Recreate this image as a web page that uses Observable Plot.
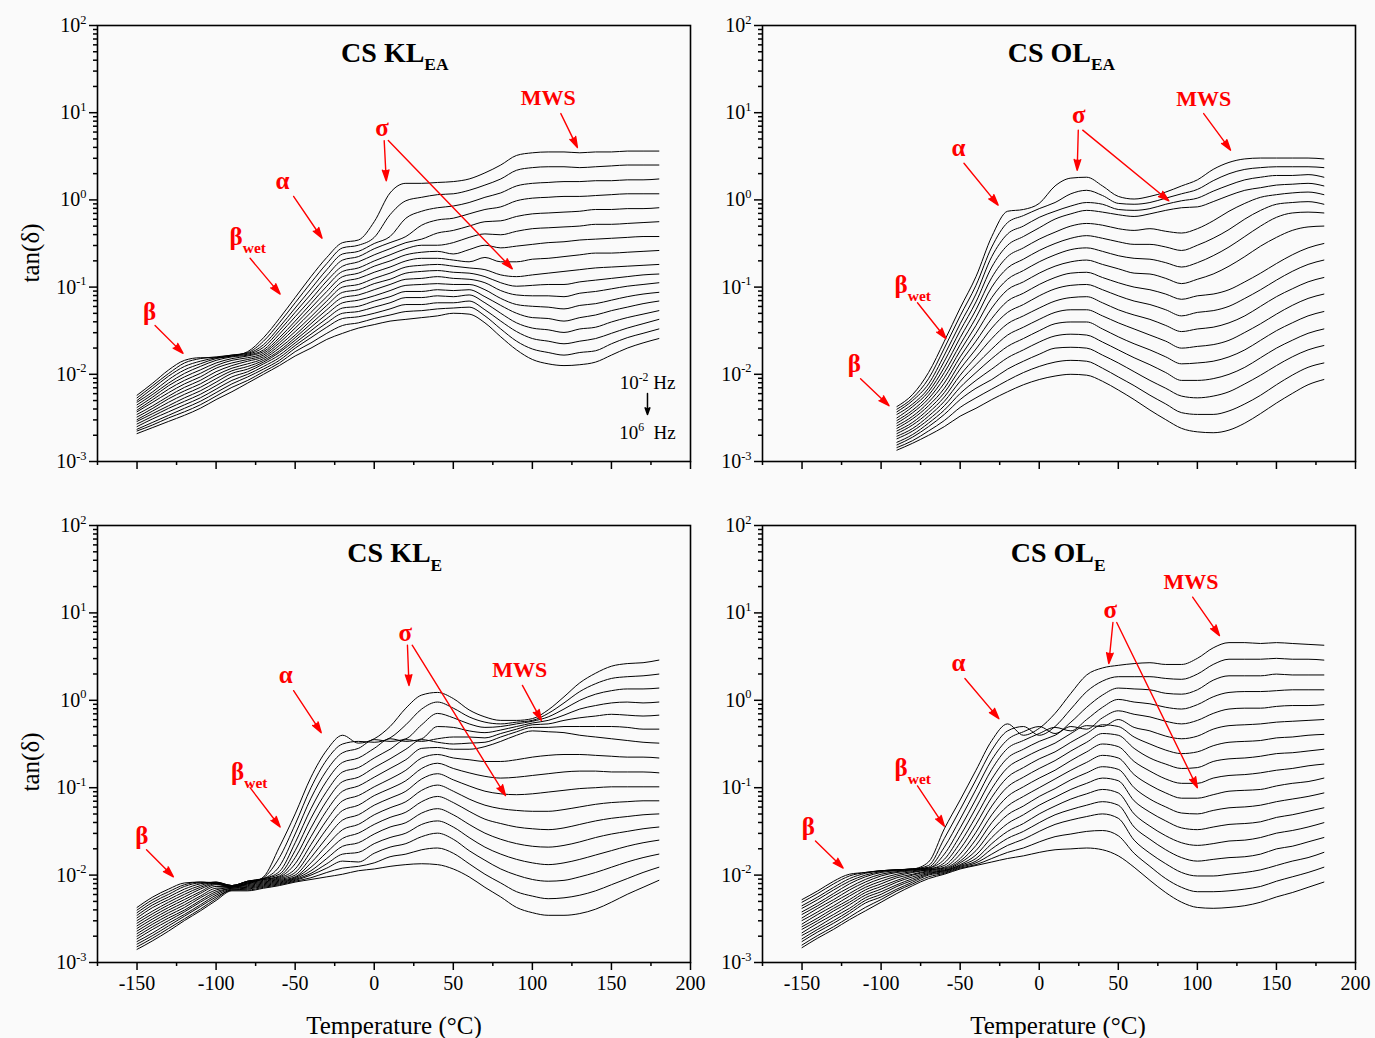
<!DOCTYPE html>
<html>
<head>
<meta charset="utf-8">
<script src="https://cdn.jsdelivr.net/npm/d3@7"></script>
<script src="https://cdn.jsdelivr.net/npm/@observablehq/plot@0.6"></script>
<style>
  html, body { margin: 0; padding: 0; background: #fafafa; }
  #fig { position: relative; width: 1375px; height: 1038px; background: #fafafa;
         font-family: "Liberation Serif", "Times New Roman", serif; }
  #fig svg { position: absolute; overflow: visible; }
</style>
</head>
<body>
<div id="fig"></div>
<script>
// Measurement temperatures (°C), one row of each table per temperature
const temps = [-150, -140, -130, -120, -110, -100, -90, -80, -70, -60, -50, -40, -30, -20, -10, 0,
  10, 20, 30, 40, 50, 60, 70, 80, 90, 100, 110, 120, 130, 140, 150, 160, 170, 180];
const tempsOLEA = [-90, -80, -70, -60, -50, -40, -30, -20, -10, 0,
  10, 20, 30, 40, 50, 60, 70, 80, 90, 100, 110, 120, 130, 140, 150, 160, 170, 180];
// log10 of the frequency (Hz), one column of each table per frequency
const freqExp = [-2, -1.5, -1, -0.5, 0, 0.5, 1, 1.5, 2, 2.5, 3, 3.5, 4, 4.5, 5, 5.5, 6];

// log10 tan(δ): rows = temperature, columns = frequency
const klEA = [
  [-2.24, -2.27, -2.30, -2.32, -2.35, -2.38, -2.41, -2.43, -2.46, -2.49, -2.52, -2.54, -2.57, -2.60, -2.63, -2.65, -2.68],
  [-2.10, -2.13, -2.16, -2.20, -2.23, -2.26, -2.29, -2.32, -2.36, -2.39, -2.42, -2.45, -2.48, -2.51, -2.55, -2.58, -2.61],
  [-1.95, -1.99, -2.02, -2.06, -2.10, -2.13, -2.17, -2.21, -2.25, -2.28, -2.32, -2.36, -2.39, -2.43, -2.47, -2.50, -2.54],
  [-1.84, -1.87, -1.91, -1.95, -1.99, -2.03, -2.07, -2.11, -2.15, -2.19, -2.23, -2.27, -2.31, -2.35, -2.39, -2.43, -2.47],
  [-1.81, -1.82, -1.85, -1.88, -1.91, -1.95, -1.99, -2.03, -2.07, -2.11, -2.15, -2.19, -2.23, -2.27, -2.31, -2.35, -2.39],
  [-1.81, -1.80, -1.81, -1.82, -1.84, -1.87, -1.90, -1.93, -1.97, -2.01, -2.05, -2.09, -2.13, -2.17, -2.21, -2.25, -2.29],
  [-1.79, -1.78, -1.78, -1.79, -1.80, -1.82, -1.84, -1.87, -1.90, -1.93, -1.96, -1.99, -2.03, -2.07, -2.11, -2.15, -2.20],
  [-1.74, -1.75, -1.76, -1.77, -1.78, -1.79, -1.81, -1.83, -1.85, -1.88, -1.91, -1.94, -1.97, -2.00, -2.03, -2.07, -2.10],
  [-1.58, -1.62, -1.66, -1.69, -1.72, -1.74, -1.76, -1.78, -1.80, -1.82, -1.84, -1.86, -1.88, -1.91, -1.94, -1.97, -2.00],
  [-1.36, -1.41, -1.46, -1.50, -1.54, -1.58, -1.61, -1.64, -1.67, -1.70, -1.73, -1.75, -1.78, -1.81, -1.84, -1.87, -1.90],
  [-1.12, -1.18, -1.24, -1.29, -1.34, -1.39, -1.43, -1.47, -1.51, -1.55, -1.58, -1.61, -1.64, -1.67, -1.70, -1.74, -1.79],
  [-0.88, -0.95, -1.02, -1.08, -1.14, -1.19, -1.24, -1.29, -1.34, -1.38, -1.42, -1.46, -1.50, -1.54, -1.58, -1.64, -1.70],
  [-0.66, -0.73, -0.80, -0.87, -0.93, -0.99, -1.05, -1.11, -1.16, -1.21, -1.26, -1.31, -1.36, -1.41, -1.46, -1.53, -1.60],
  [-0.49, -0.55, -0.62, -0.69, -0.76, -0.82, -0.88, -0.94, -1.00, -1.06, -1.12, -1.18, -1.24, -1.30, -1.36, -1.44, -1.53],
  [-0.46, -0.52, -0.59, -0.65, -0.71, -0.78, -0.84, -0.90, -0.97, -1.03, -1.09, -1.15, -1.22, -1.28, -1.34, -1.41, -1.47],
  [-0.25, -0.43, -0.50, -0.56, -0.63, -0.70, -0.76, -0.83, -0.90, -0.96, -1.03, -1.10, -1.16, -1.23, -1.30, -1.36, -1.43],
  [0.08, -0.17, -0.42, -0.49, -0.56, -0.63, -0.70, -0.77, -0.84, -0.91, -0.97, -1.04, -1.11, -1.18, -1.25, -1.32, -1.39],
  [0.19, -0.01, -0.21, -0.42, -0.49, -0.56, -0.63, -0.70, -0.77, -0.84, -0.91, -0.98, -1.05, -1.12, -1.20, -1.28, -1.37],
  [0.19, 0.03, -0.13, -0.29, -0.45, -0.52, -0.60, -0.67, -0.75, -0.82, -0.90, -0.97, -1.05, -1.12, -1.20, -1.27, -1.35],
  [0.20, 0.06, -0.09, -0.23, -0.38, -0.52, -0.59, -0.67, -0.74, -0.81, -0.88, -0.96, -1.03, -1.10, -1.18, -1.25, -1.33],
  [0.21, 0.07, -0.07, -0.21, -0.35, -0.49, -0.62, -0.69, -0.76, -0.83, -0.90, -0.97, -1.04, -1.11, -1.18, -1.24, -1.30],
  [0.24, 0.11, -0.03, -0.16, -0.30, -0.43, -0.57, -0.71, -0.78, -0.84, -0.91, -0.97, -1.03, -1.09, -1.16, -1.23, -1.31],
  [0.31, 0.17, 0.03, -0.11, -0.25, -0.39, -0.52, -0.66, -0.80, -0.88, -0.95, -1.03, -1.11, -1.18, -1.26, -1.33, -1.41],
  [0.40, 0.24, 0.08, -0.08, -0.24, -0.40, -0.55, -0.71, -0.86, -0.95, -1.04, -1.13, -1.21, -1.30, -1.39, -1.48, -1.57],
  [0.51, 0.34, 0.16, -0.01, -0.19, -0.36, -0.53, -0.71, -0.88, -0.99, -1.09, -1.20, -1.30, -1.41, -1.51, -1.62, -1.72],
  [0.54, 0.37, 0.19, 0.02, -0.16, -0.33, -0.51, -0.68, -0.86, -0.98, -1.10, -1.22, -1.35, -1.47, -1.59, -1.71, -1.83],
  [0.55, 0.38, 0.20, 0.03, -0.15, -0.32, -0.49, -0.67, -0.84, -0.97, -1.10, -1.23, -1.36, -1.49, -1.62, -1.75, -1.88],
  [0.55, 0.38, 0.21, 0.04, -0.14, -0.31, -0.48, -0.65, -0.82, -0.97, -1.11, -1.25, -1.39, -1.52, -1.65, -1.78, -1.90],
  [0.54, 0.37, 0.21, 0.04, -0.13, -0.30, -0.46, -0.63, -0.80, -0.94, -1.07, -1.21, -1.35, -1.48, -1.62, -1.75, -1.89],
  [0.55, 0.38, 0.22, 0.05, -0.11, -0.28, -0.45, -0.61, -0.78, -0.92, -1.05, -1.19, -1.32, -1.46, -1.59, -1.73, -1.86],
  [0.55, 0.39, 0.22, 0.06, -0.11, -0.28, -0.44, -0.61, -0.77, -0.90, -1.02, -1.15, -1.27, -1.40, -1.53, -1.65, -1.78],
  [0.56, 0.40, 0.23, 0.07, -0.10, -0.27, -0.43, -0.60, -0.76, -0.88, -0.99, -1.11, -1.23, -1.35, -1.47, -1.58, -1.70],
  [0.56, 0.40, 0.23, 0.07, -0.10, -0.26, -0.42, -0.59, -0.75, -0.86, -0.97, -1.08, -1.19, -1.31, -1.42, -1.53, -1.64],
  [0.56, 0.40, 0.24, 0.07, -0.09, -0.25, -0.42, -0.58, -0.74, -0.85, -0.95, -1.06, -1.16, -1.27, -1.37, -1.48, -1.59]
];

const olEA = [
  [-2.37, -2.40, -2.43, -2.46, -2.50, -2.53, -2.56, -2.59, -2.62, -2.65, -2.68, -2.71, -2.74, -2.78, -2.81, -2.84, -2.87],
  [-2.23, -2.27, -2.30, -2.34, -2.37, -2.41, -2.44, -2.48, -2.51, -2.55, -2.58, -2.62, -2.65, -2.69, -2.72, -2.76, -2.79],
  [-1.98, -2.05, -2.11, -2.16, -2.20, -2.24, -2.28, -2.32, -2.36, -2.40, -2.44, -2.48, -2.52, -2.56, -2.60, -2.65, -2.70],
  [-1.62, -1.70, -1.78, -1.85, -1.92, -1.98, -2.04, -2.10, -2.16, -2.21, -2.26, -2.31, -2.36, -2.41, -2.46, -2.53, -2.60],
  [-1.24, -1.33, -1.42, -1.50, -1.58, -1.66, -1.73, -1.80, -1.87, -1.94, -2.01, -2.08, -2.15, -2.22, -2.29, -2.38, -2.48],
  [-0.88, -0.98, -1.08, -1.17, -1.26, -1.35, -1.44, -1.53, -1.62, -1.71, -1.80, -1.89, -1.98, -2.07, -2.16, -2.27, -2.39],
  [-0.42, -0.54, -0.65, -0.77, -0.89, -1.00, -1.12, -1.24, -1.36, -1.47, -1.59, -1.71, -1.82, -1.94, -2.06, -2.17, -2.29],
  [-0.13, -0.26, -0.39, -0.52, -0.65, -0.78, -0.91, -1.03, -1.16, -1.29, -1.42, -1.55, -1.68, -1.81, -1.94, -2.07, -2.20],
  [-0.11, -0.18, -0.30, -0.42, -0.55, -0.68, -0.81, -0.94, -1.07, -1.20, -1.33, -1.46, -1.59, -1.72, -1.85, -1.98, -2.12],
  [-0.04, -0.10, -0.20, -0.32, -0.45, -0.58, -0.71, -0.84, -0.97, -1.10, -1.24, -1.37, -1.50, -1.63, -1.77, -1.91, -2.06],
  [0.16, -0.03, -0.13, -0.22, -0.37, -0.50, -0.63, -0.76, -0.89, -1.02, -1.16, -1.29, -1.42, -1.56, -1.70, -1.86, -2.02],
  [0.25, 0.07, -0.07, -0.16, -0.30, -0.44, -0.57, -0.71, -0.84, -0.98, -1.12, -1.26, -1.40, -1.54, -1.69, -1.84, -2.00],
  [0.26, 0.11, -0.03, -0.12, -0.27, -0.41, -0.55, -0.69, -0.83, -0.97, -1.11, -1.26, -1.40, -1.55, -1.70, -1.85, -2.01],
  [0.16, 0.05, -0.05, -0.14, -0.29, -0.44, -0.59, -0.74, -0.89, -1.03, -1.18, -1.33, -1.48, -1.63, -1.78, -1.93, -2.08],
  [0.04, -0.04, -0.11, -0.17, -0.33, -0.48, -0.64, -0.79, -0.95, -1.10, -1.26, -1.41, -1.57, -1.72, -1.87, -2.03, -2.18],
  [0.01, -0.05, -0.12, -0.19, -0.35, -0.51, -0.67, -0.84, -1.00, -1.16, -1.32, -1.48, -1.65, -1.81, -1.97, -2.13, -2.29],
  [0.04, -0.03, -0.10, -0.16, -0.33, -0.51, -0.68, -0.85, -1.03, -1.20, -1.37, -1.55, -1.72, -1.89, -2.07, -2.24, -2.41],
  [0.09, 0.02, -0.05, -0.12, -0.36, -0.54, -0.72, -0.90, -1.08, -1.26, -1.44, -1.62, -1.80, -1.98, -2.16, -2.34, -2.52],
  [0.16, 0.07, -0.01, -0.09, -0.38, -0.58, -0.77, -0.96, -1.14, -1.33, -1.51, -1.70, -1.88, -2.07, -2.25, -2.44, -2.62],
  [0.23, 0.12, 0.02, -0.08, -0.33, -0.52, -0.72, -0.91, -1.10, -1.29, -1.48, -1.68, -1.87, -2.07, -2.27, -2.46, -2.66],
  [0.35, 0.22, 0.10, -0.02, -0.24, -0.44, -0.64, -0.85, -1.08, -1.27, -1.46, -1.66, -1.85, -2.05, -2.25, -2.46, -2.67],
  [0.43, 0.30, 0.17, 0.05, -0.13, -0.34, -0.54, -0.76, -1.03, -1.22, -1.41, -1.61, -1.80, -2.00, -2.20, -2.42, -2.64],
  [0.47, 0.35, 0.23, 0.11, -0.04, -0.22, -0.42, -0.65, -0.94, -1.13, -1.33, -1.52, -1.72, -1.92, -2.11, -2.34, -2.56],
  [0.48, 0.37, 0.26, 0.14, 0.03, -0.12, -0.30, -0.53, -0.84, -1.03, -1.22, -1.42, -1.61, -1.81, -2.01, -2.24, -2.45],
  [0.48, 0.38, 0.28, 0.17, 0.06, -0.05, -0.20, -0.43, -0.73, -0.92, -1.11, -1.31, -1.50, -1.70, -1.90, -2.12, -2.33],
  [0.48, 0.38, 0.28, 0.18, 0.08, -0.03, -0.15, -0.35, -0.63, -0.82, -1.02, -1.21, -1.41, -1.61, -1.80, -2.01, -2.22],
  [0.48, 0.38, 0.29, 0.19, 0.09, -0.02, -0.14, -0.31, -0.55, -0.74, -0.94, -1.13, -1.33, -1.53, -1.72, -1.92, -2.12],
  [0.47, 0.37, 0.26, 0.16, 0.06, -0.05, -0.15, -0.30, -0.50, -0.69, -0.89, -1.08, -1.28, -1.48, -1.67, -1.87, -2.06]
];

const klE = [
  [-2.37, -2.40, -2.43, -2.46, -2.49, -2.52, -2.55, -2.58, -2.61, -2.64, -2.67, -2.70, -2.73, -2.76, -2.79, -2.82, -2.85],
  [-2.25, -2.28, -2.31, -2.34, -2.37, -2.41, -2.44, -2.47, -2.50, -2.53, -2.56, -2.59, -2.62, -2.66, -2.69, -2.72, -2.75],
  [-2.16, -2.19, -2.22, -2.25, -2.28, -2.31, -2.34, -2.37, -2.40, -2.43, -2.46, -2.49, -2.52, -2.55, -2.58, -2.61, -2.64],
  [-2.09, -2.11, -2.13, -2.16, -2.19, -2.22, -2.25, -2.28, -2.31, -2.34, -2.37, -2.40, -2.42, -2.45, -2.47, -2.50, -2.52],
  [-2.08, -2.08, -2.09, -2.10, -2.12, -2.14, -2.16, -2.19, -2.21, -2.24, -2.26, -2.29, -2.31, -2.34, -2.36, -2.39, -2.41],
  [-2.10, -2.09, -2.09, -2.08, -2.08, -2.09, -2.10, -2.11, -2.13, -2.15, -2.17, -2.19, -2.21, -2.23, -2.25, -2.27, -2.29],
  [-2.13, -2.13, -2.12, -2.12, -2.12, -2.12, -2.12, -2.13, -2.13, -2.14, -2.14, -2.15, -2.15, -2.16, -2.17, -2.17, -2.18],
  [-2.10, -2.09, -2.08, -2.07, -2.07, -2.07, -2.08, -2.09, -2.10, -2.11, -2.12, -2.13, -2.14, -2.15, -2.16, -2.17, -2.18],
  [-2.02, -2.03, -2.04, -2.04, -2.04, -2.05, -2.05, -2.06, -2.07, -2.08, -2.09, -2.10, -2.11, -2.12, -2.13, -2.14, -2.15],
  [-1.68, -1.80, -1.90, -1.96, -1.99, -2.01, -2.02, -2.03, -2.04, -2.05, -2.06, -2.07, -2.08, -2.09, -2.10, -2.11, -2.12],
  [-1.30, -1.42, -1.53, -1.63, -1.72, -1.80, -1.87, -1.93, -1.97, -2.00, -2.02, -2.03, -2.04, -2.05, -2.06, -2.07, -2.08],
  [-0.88, -1.00, -1.12, -1.24, -1.35, -1.46, -1.56, -1.65, -1.73, -1.80, -1.86, -1.91, -1.95, -1.98, -2.00, -2.03, -2.05],
  [-0.57, -0.68, -0.80, -0.92, -1.04, -1.15, -1.26, -1.37, -1.47, -1.57, -1.66, -1.74, -1.81, -1.87, -1.92, -1.97, -2.02],
  [-0.40, -0.50, -0.60, -0.71, -0.82, -0.93, -1.04, -1.15, -1.26, -1.37, -1.48, -1.58, -1.67, -1.76, -1.84, -1.92, -1.99],
  [-0.49, -0.47, -0.55, -0.66, -0.77, -0.88, -0.98, -1.09, -1.20, -1.31, -1.42, -1.52, -1.63, -1.74, -1.85, -1.90, -1.95],
  [-0.44, -0.48, -0.45, -0.55, -0.66, -0.77, -0.88, -0.99, -1.09, -1.20, -1.31, -1.42, -1.53, -1.64, -1.75, -1.86, -1.93],
  [-0.30, -0.43, -0.47, -0.44, -0.56, -0.67, -0.78, -0.90, -1.01, -1.12, -1.23, -1.34, -1.45, -1.57, -1.68, -1.79, -1.90],
  [-0.09, -0.28, -0.44, -0.47, -0.45, -0.56, -0.68, -0.80, -0.92, -1.04, -1.16, -1.28, -1.40, -1.52, -1.64, -1.76, -1.88],
  [0.06, -0.10, -0.28, -0.44, -0.47, -0.45, -0.55, -0.66, -0.78, -0.90, -1.03, -1.16, -1.29, -1.42, -1.56, -1.71, -1.87],
  [0.09, -0.02, -0.15, -0.30, -0.44, -0.48, -0.54, -0.62, -0.72, -0.84, -0.97, -1.10, -1.24, -1.38, -1.52, -1.69, -1.88],
  [0.02, -0.09, -0.20, -0.31, -0.42, -0.50, -0.56, -0.66, -0.78, -0.91, -1.04, -1.17, -1.31, -1.45, -1.59, -1.75, -1.93],
  [-0.11, -0.19, -0.27, -0.35, -0.42, -0.49, -0.56, -0.68, -0.83, -0.98, -1.13, -1.27, -1.42, -1.57, -1.72, -1.87, -2.02],
  [-0.19, -0.25, -0.31, -0.37, -0.43, -0.48, -0.53, -0.70, -0.87, -1.04, -1.20, -1.36, -1.52, -1.68, -1.83, -1.99, -2.14],
  [-0.23, -0.27, -0.30, -0.34, -0.38, -0.42, -0.47, -0.70, -0.89, -1.07, -1.24, -1.41, -1.59, -1.76, -1.93, -2.09, -2.25],
  [-0.23, -0.25, -0.27, -0.30, -0.33, -0.36, -0.40, -0.68, -0.88, -1.08, -1.26, -1.45, -1.64, -1.82, -2.00, -2.19, -2.37],
  [-0.21, -0.23, -0.24, -0.26, -0.28, -0.31, -0.35, -0.65, -0.86, -1.07, -1.27, -1.47, -1.67, -1.86, -2.05, -2.24, -2.43],
  [-0.11, -0.15, -0.19, -0.23, -0.27, -0.31, -0.36, -0.63, -0.84, -1.05, -1.27, -1.48, -1.68, -1.88, -2.07, -2.27, -2.46],
  [0.04, -0.03, -0.10, -0.17, -0.23, -0.30, -0.37, -0.62, -0.82, -1.03, -1.25, -1.46, -1.66, -1.86, -2.06, -2.26, -2.46],
  [0.20, 0.10, 0.00, -0.10, -0.20, -0.30, -0.40, -0.62, -0.81, -1.01, -1.22, -1.42, -1.62, -1.82, -2.02, -2.23, -2.44],
  [0.31, 0.19, 0.07, -0.06, -0.18, -0.30, -0.42, -0.63, -0.81, -1.00, -1.19, -1.38, -1.57, -1.77, -1.97, -2.18, -2.39],
  [0.39, 0.25, 0.11, -0.03, -0.16, -0.30, -0.44, -0.64, -0.82, -0.99, -1.17, -1.35, -1.53, -1.72, -1.91, -2.11, -2.31],
  [0.42, 0.27, 0.13, -0.02, -0.17, -0.31, -0.46, -0.65, -0.82, -0.99, -1.16, -1.33, -1.50, -1.67, -1.85, -2.04, -2.22],
  [0.43, 0.28, 0.13, -0.03, -0.18, -0.33, -0.48, -0.65, -0.82, -0.99, -1.15, -1.31, -1.47, -1.63, -1.80, -1.97, -2.14],
  [0.46, 0.30, 0.14, -0.02, -0.17, -0.33, -0.49, -0.66, -0.83, -0.99, -1.15, -1.30, -1.45, -1.60, -1.76, -1.91, -2.06]
];

const olE = [
  [-2.28, -2.31, -2.35, -2.38, -2.42, -2.45, -2.49, -2.52, -2.56, -2.59, -2.62, -2.66, -2.69, -2.73, -2.76, -2.80, -2.83],
  [-2.18, -2.21, -2.25, -2.28, -2.32, -2.35, -2.38, -2.42, -2.45, -2.49, -2.52, -2.55, -2.59, -2.62, -2.65, -2.69, -2.72],
  [-2.07, -2.10, -2.14, -2.17, -2.21, -2.24, -2.28, -2.31, -2.35, -2.38, -2.41, -2.45, -2.48, -2.52, -2.55, -2.59, -2.62],
  [-1.99, -2.01, -2.04, -2.07, -2.10, -2.14, -2.17, -2.21, -2.24, -2.28, -2.31, -2.34, -2.38, -2.41, -2.44, -2.48, -2.51],
  [-1.97, -1.97, -1.98, -2.00, -2.02, -2.05, -2.08, -2.11, -2.14, -2.17, -2.20, -2.23, -2.26, -2.29, -2.32, -2.37, -2.41],
  [-1.95, -1.95, -1.95, -1.96, -1.97, -1.99, -2.01, -2.04, -2.07, -2.10, -2.13, -2.16, -2.19, -2.22, -2.25, -2.28, -2.31],
  [-1.94, -1.94, -1.94, -1.94, -1.95, -1.96, -1.97, -1.99, -2.01, -2.03, -2.06, -2.08, -2.11, -2.13, -2.16, -2.18, -2.21],
  [-1.93, -1.93, -1.93, -1.93, -1.94, -1.94, -1.95, -1.96, -1.97, -1.99, -2.00, -2.02, -2.04, -2.06, -2.08, -2.10, -2.12],
  [-1.85, -1.89, -1.91, -1.92, -1.92, -1.93, -1.93, -1.94, -1.94, -1.95, -1.96, -1.97, -1.98, -1.99, -2.00, -2.02, -2.04],
  [-1.47, -1.58, -1.68, -1.76, -1.82, -1.86, -1.89, -1.91, -1.92, -1.93, -1.94, -1.95, -1.95, -1.96, -1.97, -1.98, -1.99],
  [-1.14, -1.25, -1.36, -1.46, -1.55, -1.63, -1.70, -1.76, -1.81, -1.84, -1.86, -1.88, -1.89, -1.90, -1.91, -1.92, -1.93],
  [-0.80, -0.91, -1.02, -1.13, -1.23, -1.33, -1.42, -1.51, -1.59, -1.66, -1.72, -1.77, -1.81, -1.84, -1.86, -1.88, -1.89],
  [-0.46, -0.57, -0.68, -0.79, -0.90, -1.01, -1.11, -1.21, -1.31, -1.40, -1.49, -1.57, -1.64, -1.70, -1.76, -1.81, -1.85],
  [-0.27, -0.35, -0.45, -0.55, -0.66, -0.77, -0.88, -0.99, -1.10, -1.21, -1.31, -1.41, -1.50, -1.58, -1.66, -1.74, -1.81],
  [-0.40, -0.30, -0.36, -0.46, -0.56, -0.66, -0.77, -0.88, -0.99, -1.10, -1.21, -1.31, -1.41, -1.50, -1.59, -1.69, -1.78],
  [-0.32, -0.40, -0.30, -0.38, -0.47, -0.57, -0.67, -0.78, -0.89, -1.00, -1.10, -1.20, -1.30, -1.40, -1.50, -1.62, -1.74],
  [-0.15, -0.30, -0.38, -0.31, -0.40, -0.49, -0.59, -0.69, -0.80, -0.90, -1.01, -1.11, -1.21, -1.31, -1.42, -1.56, -1.71],
  [0.08, -0.10, -0.25, -0.35, -0.30, -0.38, -0.48, -0.58, -0.69, -0.80, -0.91, -1.02, -1.13, -1.25, -1.37, -1.53, -1.70],
  [0.29, 0.10, -0.08, -0.22, -0.33, -0.29, -0.38, -0.48, -0.59, -0.71, -0.83, -0.95, -1.07, -1.20, -1.33, -1.50, -1.69],
  [0.37, 0.22, 0.06, -0.08, -0.20, -0.30, -0.28, -0.38, -0.50, -0.63, -0.76, -0.89, -1.02, -1.16, -1.30, -1.49, -1.71],
  [0.40, 0.27, 0.14, 0.01, -0.12, -0.22, -0.30, -0.40, -0.53, -0.66, -0.79, -0.92, -1.06, -1.20, -1.35, -1.55, -1.78],
  [0.42, 0.27, 0.13, -0.02, -0.16, -0.31, -0.42, -0.55, -0.70, -0.85, -1.00, -1.15, -1.30, -1.45, -1.60, -1.75, -1.91],
  [0.43, 0.27, 0.12, -0.04, -0.19, -0.35, -0.50, -0.66, -0.81, -0.97, -1.13, -1.28, -1.44, -1.59, -1.75, -1.90, -2.06],
  [0.41, 0.25, 0.08, -0.08, -0.24, -0.41, -0.57, -0.73, -0.90, -1.06, -1.22, -1.38, -1.55, -1.71, -1.87, -2.04, -2.20],
  [0.41, 0.24, 0.07, -0.10, -0.27, -0.44, -0.61, -0.78, -0.95, -1.12, -1.29, -1.46, -1.63, -1.80, -1.97, -2.14, -2.31],
  [0.48, 0.30, 0.12, -0.05, -0.23, -0.41, -0.59, -0.77, -0.95, -1.12, -1.30, -1.48, -1.66, -1.84, -2.01, -2.19, -2.37],
  [0.60, 0.41, 0.23, 0.04, -0.15, -0.33, -0.52, -0.70, -0.89, -1.08, -1.26, -1.45, -1.64, -1.82, -2.01, -2.19, -2.38],
  [0.66, 0.47, 0.28, 0.09, -0.10, -0.29, -0.48, -0.67, -0.86, -1.04, -1.23, -1.42, -1.61, -1.80, -1.99, -2.18, -2.37],
  [0.66, 0.47, 0.28, 0.10, -0.09, -0.28, -0.47, -0.66, -0.85, -1.03, -1.22, -1.41, -1.60, -1.79, -1.97, -2.16, -2.35],
  [0.65, 0.47, 0.28, 0.10, -0.09, -0.27, -0.46, -0.64, -0.83, -1.02, -1.20, -1.39, -1.57, -1.76, -1.94, -2.13, -2.31],
  [0.66, 0.48, 0.30, 0.11, -0.07, -0.25, -0.43, -0.61, -0.80, -0.98, -1.16, -1.34, -1.52, -1.70, -1.89, -2.07, -2.25],
  [0.65, 0.47, 0.29, 0.12, -0.06, -0.24, -0.42, -0.60, -0.78, -0.95, -1.13, -1.31, -1.49, -1.67, -1.84, -2.02, -2.20],
  [0.64, 0.47, 0.29, 0.12, -0.06, -0.23, -0.40, -0.58, -0.75, -0.93, -1.10, -1.27, -1.45, -1.62, -1.80, -1.97, -2.14],
  [0.63, 0.46, 0.29, 0.12, -0.05, -0.22, -0.39, -0.56, -0.73, -0.89, -1.06, -1.23, -1.40, -1.57, -1.74, -1.91, -2.08]
];

// Panel titles and relaxation labels, placed in data units (T in °C, lv = log10 tan δ)
const titles = [
  {T: 13, lv: 1.69, text: "CS KL_{EA}"},
  {T: 14, lv: 1.69, text: "CS OL_{EA}"},
  {T: 13, lv: 1.68, text: "CS KL_{E}"},
  {T: 12, lv: 1.68, text: "CS OL_{E}"}
];
const labelsKLEA = [
  {T: 110, lv: 1.17, text: "MWS"}, {T: 5, lv: 0.83, text: "σ"}, {T: -58, lv: 0.22, text: "α"},
  {T: -80, lv: -0.42, text: "β_{wet}"}, {T: -142, lv: -1.28, text: "β"}
];
const arrowsKLEA = [
  {T1: 118, lv1: 0.99, T2: 128.5, lv2: 0.60}, {T1: 6.3, lv1: 0.68, T2: 7.6, lv2: 0.22},
  {T1: 8.9, lv1: 0.68, T2: 87.3, lv2: -0.79}, {T1: -51, lv1: 0.04, T2: -33, lv2: -0.44},
  {T1: -78.5, lv1: -0.67, T2: -59.5, lv2: -1.08}, {T1: -138.6, lv1: -1.44, T2: -120.9, lv2: -1.76}
];
const labelsOLEA = [
  {T: 104, lv: 1.16, text: "MWS"}, {T: 25, lv: 0.97, text: "σ"}, {T: -51, lv: 0.59, text: "α"},
  {T: -80, lv: -0.98, text: "β_{wet}"}, {T: -117, lv: -1.88, text: "β"}
];
const arrowsOLEA = [
  {T1: 104, lv1: 0.99, T2: 121, lv2: 0.57}, {T1: 24.7, lv1: 0.80, T2: 24, lv2: 0.34},
  {T1: 27.5, lv1: 0.80, T2: 82, lv2: -0.01}, {T1: -47.6, lv1: 0.42, T2: -26, lv2: -0.06},
  {T1: -77, lv1: -1.18, T2: -59, lv2: -1.59}, {T1: -113, lv1: -2.05, T2: -95, lv2: -2.36}
];
const labelsKLE = [
  {T: 92, lv: 0.35, text: "MWS"}, {T: 19.6, lv: 0.77, text: "σ"}, {T: -56, lv: 0.29, text: "α"},
  {T: -79, lv: -0.82, text: "β_{wet}"}, {T: -147, lv: -1.55, text: "β"}
];
const arrowsKLE = [
  {T1: 93.7, lv1: 0.17, T2: 105.7, lv2: -0.23}, {T1: 21, lv1: 0.63, T2: 22, lv2: 0.17},
  {T1: 24, lv1: 0.63, T2: 83, lv2: -1.09}, {T1: -51, lv1: 0.11, T2: -33.5, lv2: -0.37},
  {T1: -78.5, lv1: -1.0, T2: -59.5, lv2: -1.45}, {T1: -144, lv1: -1.71, T2: -127, lv2: -2.02}
];
const labelsOLE = [
  {T: 96, lv: 1.35, text: "MWS"}, {T: 45, lv: 1.03, text: "σ"}, {T: -51, lv: 0.43, text: "α"},
  {T: -80, lv: -0.78, text: "β_{wet}"}, {T: -146, lv: -1.45, text: "β"}
];
const arrowsOLE = [
  {T1: 97, lv1: 1.18, T2: 114, lv2: 0.74}, {T1: 46.6, lv1: 0.89, T2: 44, lv2: 0.42},
  {T1: 49, lv1: 0.89, T2: 100, lv2: -1.0}, {T1: -47, lv1: 0.25, T2: -25.5, lv2: -0.21},
  {T1: -77, lv1: -0.98, T2: -60, lv2: -1.44}, {T1: -141.5, lv1: -1.61, T2: -124, lv2: -1.92}
];
// Frequency-direction legend in the first panel
const freqLegend = [
  {T: 172.8, lv: -2.10, text: "10^{-2} Hz"},
  {T: 172.8, lv: -2.67, text: "10^{6}  Hz"}
];
const freqArrow = [{T1: 172.8, lv1: -2.22, T2: 172.8, lv2: -2.46}];

const FONT = '"Liberation Serif", "Times New Roman", serif';
const RED = "#ff0000";
const xMajor = [-150, -100, -50, 0, 50, 100, 150, 200];
const xMinor = [-175, -125, -75, -25, 25, 75, 125, 175];
const yMajor = [1e-3, 1e-2, 1e-1, 1, 10, 100];
const yMinor = yMajor.slice(0, -1).flatMap(d => [2, 3, 4, 5, 6, 7, 8, 9].map(k => k * d));
const pow = d => 10 ** d.lv;

const fig = document.getElementById("fig");

// Turn "x^{a}" and "x_{b}" into raised / lowered tspans
function richText(root) {
  root.querySelectorAll("text").forEach(t => {
    const s = t.textContent;
    if (!/[\^_]\{/.test(s)) return;
    const fs = parseFloat(getComputedStyle(t).fontSize) || 16;
    const parts = s.split(/([\^_]\{[^}]*\})/).filter(p => p !== "");
    t.textContent = "";
    let shift = 0;
    for (const p of parts) {
      const ts = document.createElementNS("http://www.w3.org/2000/svg", "tspan");
      let target = 0, txt = p, small = false;
      if (p.startsWith("^{")) { target = -0.42 * fs; txt = p.slice(2, -1); small = true; }
      else if (p.startsWith("_{")) { target = 0.32 * fs; txt = p.slice(2, -1); small = true; }
      ts.setAttribute("dy", (target - shift).toFixed(2));
      shift = target;
      if (small) ts.setAttribute("font-size", (0.62 * fs).toFixed(1));
      ts.textContent = txt;
      t.appendChild(ts);
    }
  });
}

function panel({rows, rowTemps, title, labels, arrows, left, top, height, marginBottom, xLabels, extra = []}) {
  const data = rows.flatMap((row, i) => row.map((lv, j) => ({T: rowTemps[i], f: freqExp[j], v: 10 ** lv})));
  const chart = Plot.plot({
    width: 700,
    height,
    marginLeft: 97,
    marginRight: 10,
    marginTop: 25,
    marginBottom,
    style: {background: "none", fontFamily: FONT, fontSize: "20px", color: "#000", overflow: "visible"},
    x: {domain: [-175, 200]},
    y: {type: "log", domain: [1e-3, 1e2]},
    marks: [
      Plot.line(data, {x: "T", y: "v", z: "f", stroke: "#000", strokeWidth: 1, curve: "monotone-x"}),
      Plot.axisY(yMajor, {tickSize: 8, tickPadding: 3, strokeWidth: 1.5, label: null,
        tickFormat: d => `10^{${Math.round(Math.log10(d))}}`}),
      Plot.axisY(yMinor, {tickSize: 4, strokeWidth: 1.5, label: null, tickFormat: () => ""}),
      Plot.axisX(xMajor, {tickSize: 8, tickPadding: 5, strokeWidth: 1.5, label: null,
        tickFormat: xLabels ? d => String(d) : () => ""}),
      Plot.axisX(xMinor, {tickSize: 4, strokeWidth: 1.5, label: null, tickFormat: () => ""}),
      Plot.frame({stroke: "#000", strokeWidth: 1.6}),
      Plot.arrow(arrows, {x1: "T1", y1: d => 10 ** d.lv1, x2: "T2", y2: d => 10 ** d.lv2,
        stroke: RED, fill: RED, strokeWidth: 1.4, headLength: 12, headAngle: 34}),
      Plot.text(labels.filter(d => d.text === "MWS"), {x: "T", y: pow, text: "text", fill: RED,
        fontWeight: "bold", fontSize: 22}),
      Plot.text(labels.filter(d => d.text !== "MWS"), {x: "T", y: pow, text: "text", fill: RED,
        fontWeight: "bold", fontSize: 25}),
      Plot.text([title], {x: "T", y: pow, text: "text", fill: "#000", fontWeight: "bold", fontSize: 28}),
      ...extra
    ]
  });
  chart.style.left = left + "px";
  chart.style.top = top + "px";
  fig.appendChild(chart);
  richText(chart);
}

const legendMarks = [
  Plot.text(freqLegend, {x: "T", y: pow, text: "text", fill: "#000", fontSize: 19}),
  Plot.arrow(freqArrow, {x1: "T1", y1: d => 10 ** d.lv1, x2: "T2", y2: d => 10 ** d.lv2,
    stroke: "#000", fill: "#000", strokeWidth: 1.5, headLength: 8, headAngle: 40})
];

panel({rows: klEA, rowTemps: temps, title: titles[0], labels: labelsKLEA, arrows: arrowsKLEA,
  left: 0, top: 0, height: 500, marginBottom: 39, xLabels: false, extra: legendMarks});
panel({rows: olEA, rowTemps: tempsOLEA, title: titles[1], labels: labelsOLEA, arrows: arrowsOLEA,
  left: 665, top: 0, height: 500, marginBottom: 39, xLabels: false});
panel({rows: klE, rowTemps: temps, title: titles[2], labels: labelsKLE, arrows: arrowsKLE,
  left: 0, top: 500, height: 538, marginBottom: 76, xLabels: true});
panel({rows: olE, rowTemps: temps, title: titles[3], labels: labelsOLE, arrows: arrowsOLE,
  left: 665, top: 500, height: 538, marginBottom: 76, xLabels: true});

// Axis titles
const overlay = d3.select(fig).append("svg")
  .attr("width", 1375).attr("height", 1038)
  .style("left", "0px").style("top", "0px").style("pointer-events", "none")
  .attr("font-family", FONT).attr("fill", "#000");
[253, 762].forEach(cy => {
  overlay.append("text")
    .attr("transform", `translate(30,${cy}) rotate(-90)`)
    .attr("text-anchor", "middle").attr("dominant-baseline", "central")
    .attr("font-size", 25).text("tan(δ)");
});
[394, 1058].forEach(cx => {
  overlay.append("text")
    .attr("x", cx).attr("y", 1025)
    .attr("text-anchor", "middle").attr("dominant-baseline", "central")
    .attr("font-size", 25).text("Temperature (°C)");
});
</script>
</body>
</html>
